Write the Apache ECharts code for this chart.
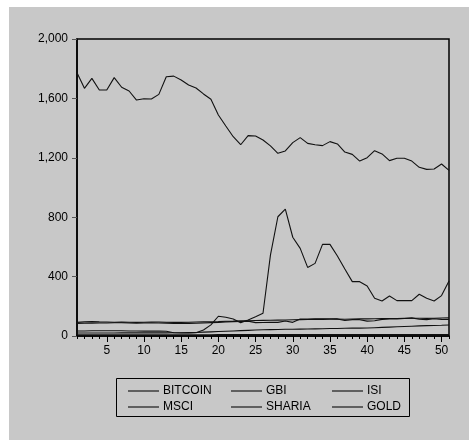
<!DOCTYPE html>
<html>
<head>
<meta charset="utf-8">
<script src="https://cdn.jsdelivr.net/npm/echarts@6/dist/echarts.min.js"></script>
<style>
html,body{margin:0;padding:0;background:#ffffff;}
#chart{position:absolute;left:9px;top:7px;width:460px;height:433px;background:#c8c8c8;}
</style>
</head>
<body>
<div id="chart"></div>
<script>
const categories = Array.from({length: 51}, (_, i) => String(i + 1));
const yTicks = [0, 400, 800, 1200, 1600, 2000];

const gold = [1773,1668,1735,1657,1657,1740,1675,1650,1589,1598,1596,1627,1746,1750,1724,1690,1670,1630,1594,1488,1414,1342,1288,1349,1347,1320,1280,1230,1246,1302,1336,1297,1288,1282,1309,1293,1239,1223,1178,1201,1248,1226,1181,1197,1197,1178,1136,1122,1125,1158,1115];
const bitcoin = [34,34,35,35,35,35,35,34,34,33,33,33,32,22,20,20,22,40,75,133,126,114,90,108,130,153,545,803,855,665,590,462,489,617,617,539,451,366,366,337,254,236,269,238,238,238,281,254,236,272,370];
const msci = [92,95,97,95,94,93,94,93,92,93,94,94,93,92,92,93,94,95,96,97,99,100,102,103,104,105,106,107,108,109,110,111,112,112,113,114,113,114,115,115,116,117,118,118,119,120,120,119,120,121,122];
const isi = [85,86,87,88,88,89,89,88,87,88,89,88,87,85,84,85,86,88,90,92,95,97,98,100,90,91,92,92,101,92,114,114,115,116,116,115,104,110,110,100,103,112,114,115,118,122,113,110,116,112,111];
const gbi = [20,20,20,20,20,20,21,21,21,21,21,21,21,22,22,23,24,26,28,30,32,34,36,38,40,42,43,44,45,45,46,47,48,49,50,51,52,53,53,54,56,58,60,62,64,66,68,70,71,72,74];
const sharia = [8,8,8,8,8,8,8,8,8,8,8,8,8,8,8,8,8,8,8,9,9,9,9,9,9,9,9,9,9,9,9,9,9,9,10,10,10,10,10,10,10,10,10,10,10,10,10,10,10,10,10];

const names = ['BITCOIN','GBI','ISI','MSCI','SHARIA','GOLD'];
const values = [bitcoin, gbi, isi, msci, sharia, gold];

const chart = echarts.init(document.getElementById('chart'));
const font = "'Liberation Sans', Arial, sans-serif";
const lineColor = '#111111';

function legendCol(data, left) {
  return {
    data: data, left: left, top: 373, orient: 'vertical',
    icon: 'rect', itemWidth: 31, itemHeight: 1.4, itemGap: 4,
    itemStyle: {color: '#333'},
    textStyle: {color: '#000', fontSize: 12, fontFamily: font, lineHeight: 12, padding: [0,0,0,-1]},
    selectedMode: false
  };
}

chart.setOption({
  animation: false,
  textStyle: {fontFamily: font},
  grid: {left: 68, top: 32, right: 20, bottom: 104, show: true, borderColor: '#000', borderWidth: 1.5, backgroundColor: 'transparent'},
  xAxis: [
    {type: 'category', data: categories, boundaryGap: false,
     axisLine: {lineStyle: {color: '#000', width: 1.5}},
     axisTick: {show: true, interval: 0, length: 3, lineStyle: {color: '#000'}},
     axisLabel: {show: false}, splitLine: {show: false}},
    {type: 'category', data: categories, boundaryGap: false, position: 'bottom',
     axisLine: {show: false},
     axisTick: {show: true, interval: (i) => (i + 1) % 5 === 0, length: 6, lineStyle: {color: '#000'}},
     axisLabel: {show: true, interval: (i) => (i + 1) % 5 === 0, color: '#000', fontSize: 12, margin: 9, fontFamily: font},
     splitLine: {show: false}}
  ],
  yAxis: {type: 'value', min: yTicks[0], max: yTicks[yTicks.length - 1], interval: 400,
    axisLine: {show: true, lineStyle: {color: '#000', width: 1.5}},
    axisTick: {show: true, length: 5, lineStyle: {color: '#555'}},
    axisLabel: {color: '#000', fontSize: 12, margin: 9, fontFamily: font,
      formatter: (v) => v.toLocaleString('en-US')},
    splitLine: {show: false}},
  legend: [legendCol(['BITCOIN','MSCI'], 114), legendCol(['GBI','SHARIA'], 217), legendCol(['ISI','GOLD'], 318)],
  graphic: [{type: 'rect', left: 107, top: 371, shape: {width: 293, height: 38},
    style: {fill: 'transparent', stroke: '#000', lineWidth: 1}, z: -1}],
  series: names.map((n, k) => ({
    name: n, type: 'line', data: values[k], symbol: 'none', showSymbol: false,
    lineStyle: {color: lineColor, width: 1.1}, itemStyle: {color: '#333'}
  }))
});
</script>
</body>
</html>
